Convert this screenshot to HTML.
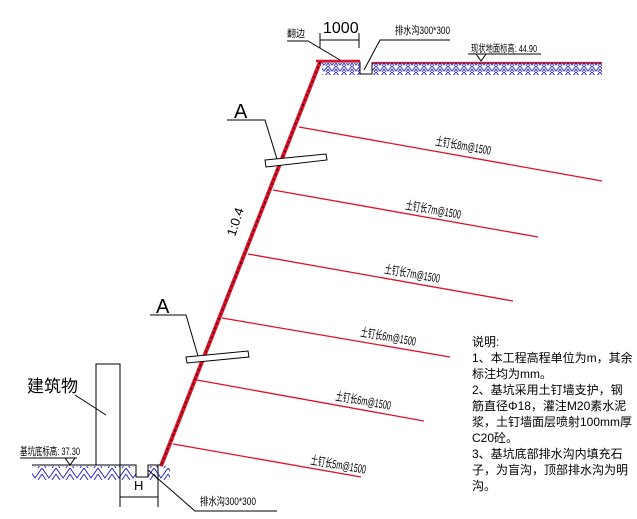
<!DOCTYPE html>
<html><head><meta charset="utf-8"><style>
html,body{margin:0;padding:0;background:#fff;}
svg{display:block;}
text{font-family:"Liberation Sans","Noto Sans CJK SC",sans-serif;}
</style></head><body>
<svg width="637" height="519" viewBox="0 0 637 519" xmlns="http://www.w3.org/2000/svg">
<defs>
<pattern id="h" width="8" height="6" patternUnits="userSpaceOnUse">
<path d="M0 0 L4 5 L8 0 M0 3 L2 6 M8 3 L6 6" stroke="#2a2ad0" stroke-width="1" fill="none"/>
</pattern>
<pattern id="h2" width="14" height="12" patternUnits="userSpaceOnUse">
<path d="M0 0 L7 10 L14 0 M0 6 L4 12 M14 6 L10 12" stroke="#2a2ad0" stroke-width="1" fill="none"/>
</pattern>
</defs>
<rect x="322" y="63" width="38" height="12" fill="url(#h)"/>
<rect x="372" y="63" width="230" height="12" fill="url(#h)"/>
<path d="M320 62 L360 62 L360 74 L372 74 L372 63 L602 63" stroke="#000" stroke-width="1" fill="none"/>
<line x1="372" y1="62.5" x2="602" y2="62.5" stroke="#e0102a" stroke-width="1.2"/>
<path d="M316 61 L360 61" stroke="#e0102a" stroke-width="2.5"/>
<path d="M320 62 L161 466" stroke="#e0102a" stroke-width="4" fill="none"/>
<path d="M320 62 L161 466" stroke="#000" stroke-width="1.2" stroke-dasharray="2 3" fill="none"/>
<g stroke="#e0102a" stroke-width="1.3">
<line x1="299" y1="127" x2="602" y2="181"/>
<line x1="273" y1="190" x2="538" y2="237"/>
<line x1="248" y1="254" x2="513" y2="301"/>
<line x1="222" y1="318" x2="450" y2="357"/>
<line x1="197" y1="380" x2="424" y2="421"/>
<line x1="173" y1="444" x2="361" y2="477"/>
</g>
<g font-size="12" fill="#000">
<text x="435" y="145" transform="rotate(10 435 145)" textLength="56" lengthAdjust="spacingAndGlyphs">土钉长8m@1500</text>
<text x="405" y="209" transform="rotate(10 405 209)" textLength="56" lengthAdjust="spacingAndGlyphs">土钉长7m@1500</text>
<text x="384" y="273" transform="rotate(10 384 273)" textLength="56" lengthAdjust="spacingAndGlyphs">土钉长7m@1500</text>
<text x="360" y="336" transform="rotate(10 360 336)" textLength="56" lengthAdjust="spacingAndGlyphs">土钉长6m@1500</text>
<text x="335" y="400" transform="rotate(10 335 400)" textLength="56" lengthAdjust="spacingAndGlyphs">土钉长6m@1500</text>
<text x="310" y="464" transform="rotate(10 310 464)" textLength="56" lengthAdjust="spacingAndGlyphs">土钉长5m@1500</text>
</g>
<text x="235" y="237" font-size="13" font-family="Liberation Serif,serif" transform="rotate(-72 235 237)">1:0.4</text>
<g stroke="#000" stroke-width="1" fill="#fff">
<polygon points="265,160 326,154 327,160 266,167"/>
<polygon points="186,357 248,351 249,357 187,363"/>
<polyline points="227,120 265,120 277,159" fill="none"/>
<polyline points="150,315 186,315 198,356" fill="none"/>
</g>
<text x="234" y="118" font-size="20" font-family="Liberation Serif,serif">A</text>
<text x="156" y="313" font-size="20" font-family="Liberation Serif,serif">A</text>
<text x="287" y="37" font-size="10" textLength="18" lengthAdjust="spacingAndGlyphs">翻边</text>
<polyline points="287,41 308,41 340,60" stroke="#000" fill="none"/>
<line x1="320" y1="40" x2="359" y2="40" stroke="#000"/>
<line x1="320" y1="33" x2="320" y2="48" stroke="#000"/>
<line x1="359" y1="33" x2="359" y2="48" stroke="#000"/>
<text x="323" y="33" font-size="16" font-family="Liberation Serif,serif">1000</text>
<text x="395" y="34" font-size="11" textLength="55" lengthAdjust="spacingAndGlyphs">排水沟300*300</text>
<polyline points="364,70 380,40 450,40" stroke="#000" fill="none"/>
<text x="471" y="52" font-size="10" textLength="66" lengthAdjust="spacingAndGlyphs">现状地面标高: 44.90</text>
<line x1="468" y1="54" x2="541" y2="54" stroke="#000"/>
<polygon points="476,54 486,54 481,61" fill="none" stroke="#000"/>
<rect x="32" y="466" width="104" height="14" fill="url(#h2)"/>
<rect x="148" y="466" width="22" height="14" fill="url(#h2)"/>
<path d="M32 465 L136 465 L136 477 L148 477 L148 465 L161 465" stroke="#000" fill="none"/>
<rect x="96" y="364" width="24" height="101" fill="none" stroke="#000"/>
<text x="27" y="392" font-size="17" font-family="Liberation Serif,'Noto Serif CJK SC',serif">建筑物</text>
<line x1="75" y1="395" x2="106" y2="415" stroke="#000"/>
<text x="20" y="455" font-size="11" textLength="60" lengthAdjust="spacingAndGlyphs">基坑底标高: 37.30</text>
<line x1="20" y1="458" x2="77" y2="458" stroke="#000"/>
<polygon points="65,458 75,458 70,465" fill="none" stroke="#000"/>
<line x1="120" y1="465" x2="120" y2="507" stroke="#000"/>
<line x1="158" y1="465" x2="158" y2="507" stroke="#000"/>
<line x1="120" y1="497" x2="158" y2="497" stroke="#000"/>
<text x="134" y="490" font-size="13">H</text>
<polyline points="148,470 195,511 277,511" stroke="#000" fill="none"/>
<text x="200" y="505" font-size="11" textLength="56" lengthAdjust="spacingAndGlyphs">排水沟300*300</text>
<g font-size="12" fill="#000">
<text x="472" y="346">说明:</text>
<text x="472" y="362">1、本工程高程单位为m，其余</text>
<text x="472" y="378">标注均为mm。</text>
<text x="472" y="394">2、基坑采用土钉墙支护，钢</text>
<text x="472" y="410">筋直径Φ18，灌注M20素水泥</text>
<text x="472" y="426">浆，土钉墙面层喷射100mm厚</text>
<text x="472" y="442">C20砼。</text>
<text x="472" y="458">3、基坑底部排水沟内填充石</text>
<text x="472" y="474">子，为盲沟，顶部排水沟为明</text>
<text x="472" y="490">沟。</text>
</g>
</svg>
</body></html>
